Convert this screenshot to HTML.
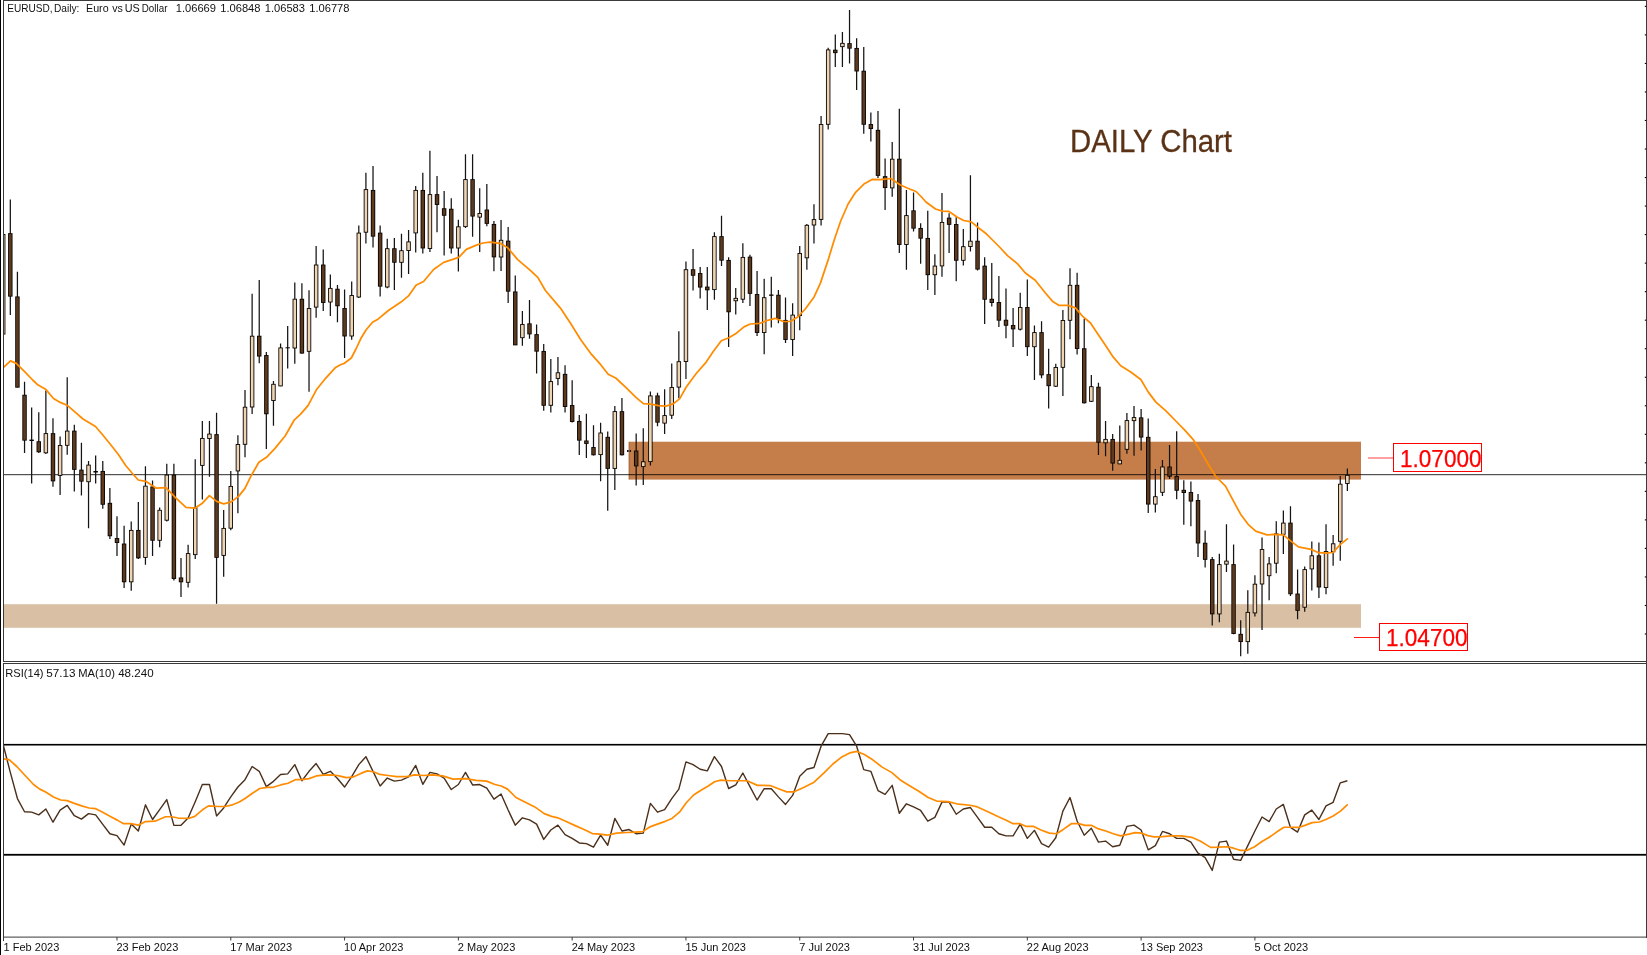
<!DOCTYPE html>
<html><head><meta charset="utf-8"><title>EURUSD Daily</title>
<style>
html,body{margin:0;padding:0;background:#fff}
body{width:1647px;height:955px;overflow:hidden;position:relative}
svg{position:absolute;left:0;top:0;display:block}
text{font-family:"Liberation Sans",sans-serif}
svg{will-change:transform}
.s{font-size:11px;fill:#111}
</style></head><body>
<svg width="1647" height="955" viewBox="0 0 1647 955">
<rect x="0" y="0" width="1647" height="955" fill="#fff"/>
<defs><clipPath id="cm"><rect x="4" y="1" width="1642" height="660"/></clipPath><clipPath id="cr"><rect x="4" y="664" width="1642" height="273"/></clipPath></defs>
<g clip-path="url(#cm)">
<rect x="628.9" y="441.7" width="732.1" height="37.9" fill="#c57e4a"/>
<rect x="4" y="604.2" width="1357" height="23.6" fill="#d9bfa4"/>
<rect x="628.6" y="441.9" width="0.9" height="37.6" fill="#8a4f2a" fill-opacity="0.7"/>
<rect x="4" y="474" width="1642" height="1.22" fill="#000" fill-opacity="0.68"/>
<rect x="0.98" y="234" width="4.44" height="100.5" fill="#0a0502"/><rect x="1.87" y="234.9" width="2.66" height="98.7" fill="#ecd4b5"/>
<path d="M10.31 199.6V315M17.42 271.7V387.5M24.54 381.8V452.9M31.65 407.6V483.6M38.76 412.2V452.9M45.87 390.5V454M52.98 418.2V486.8M60.1 436.6V494.9M67.21 377.2V454.7M74.32 424.7V491.4M81.43 442.8V495.6M88.54 460.9V528.3M95.66 455.4V483.6M102.77 461V508.7M109.88 488.1V539.1M116.99 516.3V556M124.1 525.8V588.1M131.22 521.5V590.7M138.33 501.9V559M145.44 466.2V564.8M152.55 480.6V556M159.66 507.5V547.2M166.78 463.7V521.5M173.89 463.7V580.4M181 558V597M188.11 544.7V587.4M195.22 459.2V559M202.34 421V499.4M209.45 421V476.8M216.56 412.7V603.7M223.67 510V576.8M230.78 471V530.3M237.9 435.3V513.2M245.01 390V457.2M252.12 293.8V413.9M259.23 280V363.2M266.34 351.9V449.1M273.46 381V425.7M280.57 343.5V386.2M287.68 326V368.4M294.79 282.5V363.7M301.9 283.3V353.7M309.02 290.3V391.8M316.13 246.1V317.7M323.24 249.4V310.9M330.35 274.5V316M337.46 285V322.3M344.58 289.6V358M351.69 281.5V339.8M358.8 225.5V297.9M365.91 172.7V243.6M373.02 165.9V247.6M380.14 225.5V296.4M387.25 238.8V288.3M394.36 238V290.1M401.47 233.8V277.8M408.58 230V274M415.7 186V252.4M422.81 172.7V253.6M429.92 150.8V251.9M437.03 175.9V232.3M444.14 191V255.6M451.26 198.3V253.6M458.37 219.7V271.5M465.48 154.3V228M472.59 154.3V236.8M479.7 188.3V251.9M486.82 184V226.2M493.93 221V271.3M501.04 220.1V271.1M508.15 227.1V303.1M515.26 275.4V345M522.38 311.1V345.8M529.49 300V338.8M536.6 324.4V373.5M543.71 344V410.7M550.82 358.9V412.4M557.94 357.1V385.3M565.05 365.2V412.4M572.16 380.2V422.4M579.27 414.9V454.9M586.38 413.8V457.9M593.5 425.3V455.4M600.61 422.8V481.3M607.72 431.4V510.7M614.83 406V490.1M621.94 398.1V455.4M629.06 450V452M636.17 433.5V485.6M643.28 428.3V485.1M650.39 391.5V465.5M657.5 392.8V426.3M664.62 389.3V434.1M671.73 363.4V419.1M678.84 331.2V398.3M685.95 261.6V379M693.06 249V290.5M700.18 267.1V298.5M707.29 267.1V309.9M714.4 232.2V299.8M721.51 215.8V266.1M728.62 257.3V347.1M735.74 288V314.4M742.85 243.2V303.1M749.96 254.8V305.9M757.07 271V335.9M764.18 278.8V354.2M771.3 276.8V327.6M778.41 289.9V323.3M785.52 297.4V342.9M792.63 303.2V356M799.74 245.9V330.3M806.86 224V269.7M813.97 204.3V243.6M821.08 116.1V225.4M828.19 47.8V129.5M835.3 34.4V67.1M842.42 31.9V67.1M849.53 10.1V63.6M856.64 38.2V90M863.75 47V133.7M870.86 112.6V141.5M877.98 111.1V178M885.09 158.4V210M892.2 142V196.8M899.31 108.8V252.9M906.42 189.9V269.7M913.54 192.4V231.4M920.65 223.2V263.7M927.76 210.7V290.1M934.87 254.2V294.9M941.98 193V276.8M949.1 213.2V252.9M956.21 217.3V281.3M963.32 229.1V265.5M970.43 175.2V251.6M977.54 222.4V270.5M984.66 257.2V324M991.77 263V306.4M998.88 276V327.1M1005.99 288.5V338.2M1013.1 308V347M1020.22 292.8V330.5M1027.33 279.5V356.1M1034.44 325.5V380M1041.55 321.2V378.3M1048.66 348.8V408.4M1055.78 363.7V387.1M1062.89 309.9V395.9M1070 268.2V339.3M1077.11 272.7V354.4M1084.22 318.7V403.4M1091.34 375V402.1M1098.45 382.8V454.9M1105.56 421V456.2M1112.67 434.1V470.8M1119.78 425.5V464.2M1126.9 413V453.7M1134.01 405.9V455.7M1141.12 408.9V450.4M1148.23 418.5V513M1155.34 469V512.5M1162.46 460.1V495.9M1169.57 445V479M1176.68 431.2V499.2M1183.79 480.3V524.8M1190.9 481.6V526.3M1198.02 494.1V557M1205.13 530.6V567.5M1212.24 557V625.4M1219.35 553.7V622.3M1226.46 524.3V572.1M1233.58 544.4V634.2M1240.69 620.3V656.3M1247.8 590.2V653.8M1254.91 575.3V616.6M1262.02 537.6V629.9M1269.14 557V600.2M1276.25 521.3V573.3M1283.36 510.5V554M1290.47 506.2V595.9M1297.58 569.5V619.3M1304.7 566.5V611.8M1311.81 541.4V590.4M1318.92 542.4V598M1326.03 524.3V594.2M1333.14 534.9V565.8M1340.26 476V560.7M1347.37 468.5V491.1" stroke="#141414" stroke-width="1.25" fill="none"/>
<rect x="8.09" y="233.15" width="4.44" height="63.5" fill="#0a0502"/>
<rect x="8.98" y="234.04" width="2.66" height="61.72" fill="#5c3a20"/>
<rect x="15.2" y="296.45" width="4.44" height="91.2" fill="#0a0502"/>
<rect x="16.09" y="297.34" width="2.66" height="89.42" fill="#5c3a20"/>
<rect x="22.32" y="394.75" width="4.44" height="45.9" fill="#0a0502"/>
<rect x="23.21" y="395.64" width="2.66" height="44.12" fill="#5c3a20"/>
<rect x="29.43" y="439.6" width="4.44" height="1.4" fill="#0a0502"/>
<rect x="36.54" y="441.25" width="4.44" height="11" fill="#0a0502"/>
<rect x="37.43" y="442.14" width="2.66" height="9.22" fill="#5c3a20"/>
<rect x="43.65" y="433.15" width="4.44" height="20.1" fill="#0a0502"/>
<rect x="44.54" y="434.04" width="2.66" height="18.32" fill="#ecd4b5"/>
<rect x="50.76" y="433.15" width="4.44" height="48.2" fill="#0a0502"/>
<rect x="51.65" y="434.04" width="2.66" height="46.42" fill="#5c3a20"/>
<rect x="57.88" y="445.05" width="4.44" height="30.8" fill="#0a0502"/>
<rect x="58.77" y="445.94" width="2.66" height="29.02" fill="#ecd4b5"/>
<rect x="64.99" y="430.65" width="4.44" height="15.1" fill="#0a0502"/>
<rect x="65.88" y="431.54" width="2.66" height="13.32" fill="#ecd4b5"/>
<rect x="72.1" y="430.65" width="4.44" height="39.2" fill="#0a0502"/>
<rect x="72.99" y="431.54" width="2.66" height="37.42" fill="#5c3a20"/>
<rect x="79.21" y="469.65" width="4.44" height="12" fill="#0a0502"/>
<rect x="80.1" y="470.54" width="2.66" height="10.22" fill="#5c3a20"/>
<rect x="86.32" y="464.65" width="4.44" height="17.5" fill="#0a0502"/>
<rect x="87.21" y="465.54" width="2.66" height="15.72" fill="#ecd4b5"/>
<rect x="93.44" y="471" width="4.44" height="1.5" fill="#0a0502"/>
<rect x="100.55" y="470.95" width="4.44" height="33.8" fill="#0a0502"/>
<rect x="101.44" y="471.84" width="2.66" height="32.02" fill="#5c3a20"/>
<rect x="107.66" y="502.85" width="4.44" height="33.4" fill="#0a0502"/>
<rect x="108.55" y="503.74" width="2.66" height="31.62" fill="#5c3a20"/>
<rect x="114.77" y="538.05" width="4.44" height="4.9" fill="#0a0502"/>
<rect x="115.66" y="538.94" width="2.66" height="3.12" fill="#5c3a20"/>
<rect x="121.88" y="543.55" width="4.44" height="38.7" fill="#0a0502"/>
<rect x="122.77" y="544.44" width="2.66" height="36.92" fill="#5c3a20"/>
<rect x="129" y="529.95" width="4.44" height="52.3" fill="#0a0502"/>
<rect x="129.89" y="530.84" width="2.66" height="50.52" fill="#ecd4b5"/>
<rect x="136.11" y="529.95" width="4.44" height="28.4" fill="#0a0502"/>
<rect x="137" y="530.84" width="2.66" height="26.62" fill="#5c3a20"/>
<rect x="143.22" y="485.75" width="4.44" height="72.1" fill="#0a0502"/>
<rect x="144.11" y="486.64" width="2.66" height="70.32" fill="#ecd4b5"/>
<rect x="150.33" y="486.45" width="4.44" height="54.3" fill="#0a0502"/>
<rect x="151.22" y="487.34" width="2.66" height="52.52" fill="#5c3a20"/>
<rect x="157.44" y="509.85" width="4.44" height="30.9" fill="#0a0502"/>
<rect x="158.33" y="510.74" width="2.66" height="29.12" fill="#ecd4b5"/>
<rect x="164.56" y="474.65" width="4.44" height="46" fill="#0a0502"/>
<rect x="165.45" y="475.54" width="2.66" height="44.22" fill="#ecd4b5"/>
<rect x="171.67" y="474.65" width="4.44" height="104.3" fill="#0a0502"/>
<rect x="172.56" y="475.54" width="2.66" height="102.52" fill="#5c3a20"/>
<rect x="178.78" y="577.45" width="4.44" height="4.8" fill="#0a0502"/>
<rect x="179.67" y="578.34" width="2.66" height="3.02" fill="#5c3a20"/>
<rect x="185.89" y="553.15" width="4.44" height="29.6" fill="#0a0502"/>
<rect x="186.78" y="554.04" width="2.66" height="27.82" fill="#ecd4b5"/>
<rect x="193" y="507.35" width="4.44" height="47.7" fill="#0a0502"/>
<rect x="193.89" y="508.24" width="2.66" height="45.92" fill="#ecd4b5"/>
<rect x="200.12" y="437.95" width="4.44" height="27.9" fill="#0a0502"/>
<rect x="201.01" y="438.84" width="2.66" height="26.12" fill="#ecd4b5"/>
<rect x="207.23" y="433.65" width="4.44" height="5.3" fill="#0a0502"/>
<rect x="208.12" y="434.54" width="2.66" height="3.52" fill="#ecd4b5"/>
<rect x="214.34" y="434.15" width="4.44" height="123.7" fill="#0a0502"/>
<rect x="215.23" y="435.04" width="2.66" height="121.92" fill="#5c3a20"/>
<rect x="221.45" y="527.95" width="4.44" height="27.9" fill="#0a0502"/>
<rect x="222.34" y="528.84" width="2.66" height="26.12" fill="#ecd4b5"/>
<rect x="228.56" y="485.95" width="4.44" height="42.7" fill="#0a0502"/>
<rect x="229.45" y="486.84" width="2.66" height="40.92" fill="#ecd4b5"/>
<rect x="235.68" y="444.05" width="4.44" height="27.3" fill="#0a0502"/>
<rect x="236.57" y="444.94" width="2.66" height="25.52" fill="#ecd4b5"/>
<rect x="242.79" y="406.75" width="4.44" height="38" fill="#0a0502"/>
<rect x="243.68" y="407.64" width="2.66" height="36.22" fill="#ecd4b5"/>
<rect x="249.9" y="335.75" width="4.44" height="71.7" fill="#0a0502"/>
<rect x="250.79" y="336.64" width="2.66" height="69.92" fill="#ecd4b5"/>
<rect x="257.01" y="335.75" width="4.44" height="20.8" fill="#0a0502"/>
<rect x="257.9" y="336.64" width="2.66" height="19.02" fill="#5c3a20"/>
<rect x="264.12" y="355.05" width="4.44" height="59.2" fill="#0a0502"/>
<rect x="265.01" y="355.94" width="2.66" height="57.42" fill="#5c3a20"/>
<rect x="271.24" y="383.85" width="4.44" height="17.1" fill="#0a0502"/>
<rect x="272.13" y="384.74" width="2.66" height="15.32" fill="#ecd4b5"/>
<rect x="278.35" y="347.45" width="4.44" height="38.9" fill="#0a0502"/>
<rect x="279.24" y="348.34" width="2.66" height="37.12" fill="#ecd4b5"/>
<rect x="285.46" y="347.3" width="4.44" height="1" fill="#0a0502"/>
<rect x="292.57" y="298.75" width="4.44" height="49.7" fill="#0a0502"/>
<rect x="293.46" y="299.64" width="2.66" height="47.92" fill="#ecd4b5"/>
<rect x="299.68" y="298.75" width="4.44" height="54.8" fill="#0a0502"/>
<rect x="300.57" y="299.64" width="2.66" height="53.02" fill="#5c3a20"/>
<rect x="306.8" y="308.05" width="4.44" height="43.7" fill="#0a0502"/>
<rect x="307.69" y="308.94" width="2.66" height="41.92" fill="#ecd4b5"/>
<rect x="313.91" y="264.55" width="4.44" height="43" fill="#0a0502"/>
<rect x="314.8" y="265.44" width="2.66" height="41.22" fill="#ecd4b5"/>
<rect x="321.02" y="264.55" width="4.44" height="38.4" fill="#0a0502"/>
<rect x="321.91" y="265.44" width="2.66" height="36.62" fill="#5c3a20"/>
<rect x="328.13" y="287.95" width="4.44" height="14.5" fill="#0a0502"/>
<rect x="329.02" y="288.84" width="2.66" height="12.72" fill="#ecd4b5"/>
<rect x="335.24" y="288.75" width="4.44" height="17.5" fill="#0a0502"/>
<rect x="336.13" y="289.64" width="2.66" height="15.72" fill="#5c3a20"/>
<rect x="342.36" y="308.05" width="4.44" height="28.4" fill="#0a0502"/>
<rect x="343.25" y="308.94" width="2.66" height="26.62" fill="#5c3a20"/>
<rect x="349.47" y="295.05" width="4.44" height="41.4" fill="#0a0502"/>
<rect x="350.36" y="295.94" width="2.66" height="39.62" fill="#ecd4b5"/>
<rect x="356.58" y="232.65" width="4.44" height="64.8" fill="#0a0502"/>
<rect x="357.47" y="233.54" width="2.66" height="63.02" fill="#ecd4b5"/>
<rect x="363.69" y="189.15" width="4.44" height="43.5" fill="#0a0502"/>
<rect x="364.58" y="190.04" width="2.66" height="41.72" fill="#ecd4b5"/>
<rect x="370.8" y="189.95" width="4.44" height="46.7" fill="#0a0502"/>
<rect x="371.69" y="190.84" width="2.66" height="44.92" fill="#5c3a20"/>
<rect x="377.92" y="232.65" width="4.44" height="54" fill="#0a0502"/>
<rect x="378.81" y="233.54" width="2.66" height="52.22" fill="#5c3a20"/>
<rect x="385.03" y="248.25" width="4.44" height="39.2" fill="#0a0502"/>
<rect x="385.92" y="249.14" width="2.66" height="37.42" fill="#ecd4b5"/>
<rect x="392.14" y="248.25" width="4.44" height="14.5" fill="#0a0502"/>
<rect x="393.03" y="249.14" width="2.66" height="12.72" fill="#5c3a20"/>
<rect x="399.25" y="250.25" width="4.44" height="12.5" fill="#0a0502"/>
<rect x="400.14" y="251.14" width="2.66" height="10.72" fill="#ecd4b5"/>
<rect x="406.36" y="241.45" width="4.44" height="9.5" fill="#0a0502"/>
<rect x="407.25" y="242.34" width="2.66" height="7.72" fill="#ecd4b5"/>
<rect x="413.48" y="189.95" width="4.44" height="43.4" fill="#0a0502"/>
<rect x="414.37" y="190.84" width="2.66" height="41.62" fill="#ecd4b5"/>
<rect x="420.59" y="189.95" width="4.44" height="58.5" fill="#0a0502"/>
<rect x="421.48" y="190.84" width="2.66" height="56.72" fill="#5c3a20"/>
<rect x="427.7" y="194.15" width="4.44" height="54.8" fill="#0a0502"/>
<rect x="428.59" y="195.04" width="2.66" height="53.02" fill="#ecd4b5"/>
<rect x="434.81" y="194.15" width="4.44" height="10.8" fill="#0a0502"/>
<rect x="435.7" y="195.04" width="2.66" height="9.02" fill="#5c3a20"/>
<rect x="441.92" y="208.25" width="4.44" height="7.5" fill="#0a0502"/>
<rect x="442.81" y="209.14" width="2.66" height="5.72" fill="#5c3a20"/>
<rect x="449.04" y="208.75" width="4.44" height="39.7" fill="#0a0502"/>
<rect x="449.93" y="209.64" width="2.66" height="37.92" fill="#5c3a20"/>
<rect x="456.15" y="226.35" width="4.44" height="22.1" fill="#0a0502"/>
<rect x="457.04" y="227.24" width="2.66" height="20.32" fill="#ecd4b5"/>
<rect x="463.26" y="179.15" width="4.44" height="47.9" fill="#0a0502"/>
<rect x="464.15" y="180.04" width="2.66" height="46.12" fill="#ecd4b5"/>
<rect x="470.37" y="179.15" width="4.44" height="37.4" fill="#0a0502"/>
<rect x="471.26" y="180.04" width="2.66" height="35.62" fill="#5c3a20"/>
<rect x="477.48" y="213.05" width="4.44" height="4.5" fill="#0a0502"/>
<rect x="478.37" y="213.94" width="2.66" height="2.72" fill="#ecd4b5"/>
<rect x="484.6" y="209.55" width="4.44" height="14.3" fill="#0a0502"/>
<rect x="485.49" y="210.44" width="2.66" height="12.52" fill="#5c3a20"/>
<rect x="491.71" y="223.95" width="4.44" height="33.4" fill="#0a0502"/>
<rect x="492.6" y="224.84" width="2.66" height="31.62" fill="#5c3a20"/>
<rect x="498.82" y="239.85" width="4.44" height="17.6" fill="#0a0502"/>
<rect x="499.71" y="240.74" width="2.66" height="15.82" fill="#ecd4b5"/>
<rect x="505.93" y="240.65" width="4.44" height="51" fill="#0a0502"/>
<rect x="506.82" y="241.54" width="2.66" height="49.22" fill="#5c3a20"/>
<rect x="513.04" y="291.45" width="4.44" height="53.9" fill="#0a0502"/>
<rect x="513.93" y="292.34" width="2.66" height="52.12" fill="#5c3a20"/>
<rect x="520.16" y="324.05" width="4.44" height="14.1" fill="#0a0502"/>
<rect x="521.05" y="324.94" width="2.66" height="12.32" fill="#ecd4b5"/>
<rect x="527.27" y="323.35" width="4.44" height="11" fill="#0a0502"/>
<rect x="528.16" y="324.24" width="2.66" height="9.22" fill="#5c3a20"/>
<rect x="534.38" y="334.15" width="4.44" height="17.5" fill="#0a0502"/>
<rect x="535.27" y="335.04" width="2.66" height="15.72" fill="#5c3a20"/>
<rect x="541.49" y="350.95" width="4.44" height="54.8" fill="#0a0502"/>
<rect x="542.38" y="351.84" width="2.66" height="53.02" fill="#5c3a20"/>
<rect x="548.6" y="381.15" width="4.44" height="24.6" fill="#0a0502"/>
<rect x="549.49" y="382.04" width="2.66" height="22.82" fill="#ecd4b5"/>
<rect x="555.72" y="372.35" width="4.44" height="6.5" fill="#0a0502"/>
<rect x="556.61" y="373.24" width="2.66" height="4.72" fill="#ecd4b5"/>
<rect x="562.83" y="373.85" width="4.44" height="33.1" fill="#0a0502"/>
<rect x="563.72" y="374.74" width="2.66" height="31.32" fill="#5c3a20"/>
<rect x="569.94" y="405.05" width="4.44" height="16.9" fill="#0a0502"/>
<rect x="570.83" y="405.94" width="2.66" height="15.12" fill="#5c3a20"/>
<rect x="577.05" y="420.95" width="4.44" height="19.7" fill="#0a0502"/>
<rect x="577.94" y="421.84" width="2.66" height="17.92" fill="#5c3a20"/>
<rect x="584.16" y="440.5" width="4.44" height="3.4" fill="#0a0502"/>
<rect x="585.05" y="441.39" width="2.66" height="1.62" fill="#5c3a20"/>
<rect x="591.28" y="447.05" width="4.44" height="8.2" fill="#0a0502"/>
<rect x="592.17" y="447.94" width="2.66" height="6.42" fill="#5c3a20"/>
<rect x="598.39" y="432.55" width="4.44" height="22.5" fill="#0a0502"/>
<rect x="599.28" y="433.44" width="2.66" height="20.72" fill="#ecd4b5"/>
<rect x="605.5" y="436.85" width="4.44" height="32" fill="#0a0502"/>
<rect x="606.39" y="437.74" width="2.66" height="30.22" fill="#5c3a20"/>
<rect x="612.61" y="411.15" width="4.44" height="57.7" fill="#0a0502"/>
<rect x="613.5" y="412.04" width="2.66" height="55.92" fill="#ecd4b5"/>
<rect x="619.72" y="411.15" width="4.44" height="44.1" fill="#0a0502"/>
<rect x="620.61" y="412.04" width="2.66" height="42.32" fill="#5c3a20"/>
<rect x="627.06" y="450" width="4" height="2" fill="#0a0502"/><rect x="627.86" y="450.5" width="2.4" height="1" fill="#b9a88f"/>
<rect x="633.95" y="450.55" width="4.44" height="15.8" fill="#0a0502"/>
<rect x="634.84" y="451.44" width="2.66" height="14.02" fill="#5c3a20"/>
<rect x="641.06" y="461.35" width="4.44" height="5.7" fill="#0a0502"/>
<rect x="641.95" y="462.24" width="2.66" height="3.92" fill="#ecd4b5"/>
<rect x="648.17" y="395.45" width="4.44" height="66.6" fill="#0a0502"/>
<rect x="649.06" y="396.34" width="2.66" height="64.82" fill="#ecd4b5"/>
<rect x="655.28" y="395.45" width="4.44" height="27.2" fill="#0a0502"/>
<rect x="656.17" y="396.34" width="2.66" height="25.42" fill="#5c3a20"/>
<rect x="662.4" y="415.15" width="4.44" height="8.4" fill="#0a0502"/>
<rect x="663.29" y="416.04" width="2.66" height="6.62" fill="#ecd4b5"/>
<rect x="669.51" y="387.05" width="4.44" height="28.6" fill="#0a0502"/>
<rect x="670.4" y="387.94" width="2.66" height="26.82" fill="#ecd4b5"/>
<rect x="676.62" y="361.25" width="4.44" height="26.3" fill="#0a0502"/>
<rect x="677.51" y="362.14" width="2.66" height="24.52" fill="#ecd4b5"/>
<rect x="683.73" y="269.25" width="4.44" height="92.7" fill="#0a0502"/>
<rect x="684.62" y="270.14" width="2.66" height="90.92" fill="#ecd4b5"/>
<rect x="690.84" y="269.25" width="4.44" height="6.5" fill="#0a0502"/>
<rect x="691.73" y="270.14" width="2.66" height="4.72" fill="#5c3a20"/>
<rect x="697.96" y="273.05" width="4.44" height="14.5" fill="#0a0502"/>
<rect x="698.85" y="273.94" width="2.66" height="12.72" fill="#5c3a20"/>
<rect x="705.07" y="286.6" width="4.44" height="3.7" fill="#0a0502"/>
<rect x="705.96" y="287.49" width="2.66" height="1.92" fill="#5c3a20"/>
<rect x="712.18" y="236.15" width="4.44" height="53.9" fill="#0a0502"/>
<rect x="713.07" y="237.04" width="2.66" height="52.12" fill="#ecd4b5"/>
<rect x="719.29" y="236.15" width="4.44" height="24.5" fill="#0a0502"/>
<rect x="720.18" y="237.04" width="2.66" height="22.72" fill="#5c3a20"/>
<rect x="726.4" y="259.95" width="4.44" height="52.3" fill="#0a0502"/>
<rect x="727.29" y="260.84" width="2.66" height="50.52" fill="#5c3a20"/>
<rect x="733.52" y="297.9" width="4.44" height="3.3" fill="#0a0502"/>
<rect x="734.41" y="298.79" width="2.66" height="1.52" fill="#ecd4b5"/>
<rect x="740.63" y="256.95" width="4.44" height="42.7" fill="#0a0502"/>
<rect x="741.52" y="257.84" width="2.66" height="40.92" fill="#ecd4b5"/>
<rect x="747.74" y="256.65" width="4.44" height="37.2" fill="#0a0502"/>
<rect x="748.63" y="257.54" width="2.66" height="35.42" fill="#5c3a20"/>
<rect x="754.85" y="294.05" width="4.44" height="38.9" fill="#0a0502"/>
<rect x="755.74" y="294.94" width="2.66" height="37.12" fill="#5c3a20"/>
<rect x="761.96" y="297.25" width="4.44" height="35.7" fill="#0a0502"/>
<rect x="762.85" y="298.14" width="2.66" height="33.92" fill="#ecd4b5"/>
<rect x="769.08" y="294.5" width="4.44" height="1.3" fill="#0a0502"/>
<rect x="776.19" y="294.75" width="4.44" height="24.4" fill="#0a0502"/>
<rect x="777.08" y="295.64" width="2.66" height="22.62" fill="#5c3a20"/>
<rect x="783.3" y="319.95" width="4.44" height="20" fill="#0a0502"/>
<rect x="784.19" y="320.84" width="2.66" height="18.22" fill="#5c3a20"/>
<rect x="790.41" y="314.65" width="4.44" height="25.3" fill="#0a0502"/>
<rect x="791.3" y="315.54" width="2.66" height="23.52" fill="#ecd4b5"/>
<rect x="797.52" y="253.05" width="4.44" height="63" fill="#0a0502"/>
<rect x="798.41" y="253.94" width="2.66" height="61.22" fill="#ecd4b5"/>
<rect x="804.64" y="224.85" width="4.44" height="33.4" fill="#0a0502"/>
<rect x="805.53" y="225.74" width="2.66" height="31.62" fill="#ecd4b5"/>
<rect x="811.75" y="219.15" width="4.44" height="6.3" fill="#0a0502"/>
<rect x="812.64" y="220.04" width="2.66" height="4.52" fill="#ecd4b5"/>
<rect x="818.86" y="124.05" width="4.44" height="95.8" fill="#0a0502"/>
<rect x="819.75" y="124.94" width="2.66" height="94.02" fill="#ecd4b5"/>
<rect x="825.97" y="49.45" width="4.44" height="75.3" fill="#0a0502"/>
<rect x="826.86" y="50.34" width="2.66" height="73.52" fill="#ecd4b5"/>
<rect x="833.08" y="49.7" width="4.44" height="3.4" fill="#0a0502"/>
<rect x="833.97" y="50.59" width="2.66" height="1.62" fill="#5c3a20"/>
<rect x="840.2" y="42.9" width="4.44" height="4.2" fill="#0a0502"/>
<rect x="841.09" y="43.79" width="2.66" height="2.42" fill="#ecd4b5"/>
<rect x="847.31" y="43.15" width="4.44" height="5.5" fill="#0a0502"/>
<rect x="848.2" y="44.04" width="2.66" height="3.72" fill="#5c3a20"/>
<rect x="854.42" y="47.95" width="4.44" height="23.5" fill="#0a0502"/>
<rect x="855.31" y="48.84" width="2.66" height="21.72" fill="#5c3a20"/>
<rect x="861.53" y="70.75" width="4.44" height="54" fill="#0a0502"/>
<rect x="862.42" y="71.64" width="2.66" height="52.22" fill="#5c3a20"/>
<rect x="868.64" y="124.05" width="4.44" height="5" fill="#0a0502"/>
<rect x="869.53" y="124.94" width="2.66" height="3.22" fill="#5c3a20"/>
<rect x="875.76" y="129.85" width="4.44" height="46" fill="#0a0502"/>
<rect x="876.65" y="130.74" width="2.66" height="44.22" fill="#5c3a20"/>
<rect x="882.87" y="176.15" width="4.44" height="11.9" fill="#0a0502"/>
<rect x="883.76" y="177.04" width="2.66" height="10.12" fill="#5c3a20"/>
<rect x="889.98" y="158.75" width="4.44" height="29.6" fill="#0a0502"/>
<rect x="890.87" y="159.64" width="2.66" height="27.82" fill="#ecd4b5"/>
<rect x="897.09" y="158.75" width="4.44" height="86.2" fill="#0a0502"/>
<rect x="897.98" y="159.64" width="2.66" height="84.42" fill="#5c3a20"/>
<rect x="904.2" y="215.15" width="4.44" height="29.8" fill="#0a0502"/>
<rect x="905.09" y="216.04" width="2.66" height="28.02" fill="#ecd4b5"/>
<rect x="911.32" y="210.35" width="4.44" height="18.3" fill="#0a0502"/>
<rect x="912.21" y="211.24" width="2.66" height="16.52" fill="#5c3a20"/>
<rect x="918.43" y="227.95" width="4.44" height="10.7" fill="#0a0502"/>
<rect x="919.32" y="228.84" width="2.66" height="8.92" fill="#5c3a20"/>
<rect x="925.54" y="237.95" width="4.44" height="37.2" fill="#0a0502"/>
<rect x="926.43" y="238.84" width="2.66" height="35.42" fill="#5c3a20"/>
<rect x="932.65" y="265.65" width="4.44" height="9.5" fill="#0a0502"/>
<rect x="933.54" y="266.54" width="2.66" height="7.72" fill="#ecd4b5"/>
<rect x="939.76" y="221.95" width="4.44" height="44.4" fill="#0a0502"/>
<rect x="940.65" y="222.84" width="2.66" height="42.62" fill="#ecd4b5"/>
<rect x="946.88" y="217.65" width="4.44" height="7.2" fill="#0a0502"/>
<rect x="947.77" y="218.54" width="2.66" height="5.42" fill="#5c3a20"/>
<rect x="953.99" y="224.05" width="4.44" height="36.7" fill="#0a0502"/>
<rect x="954.88" y="224.94" width="2.66" height="34.92" fill="#5c3a20"/>
<rect x="961.1" y="246.25" width="4.44" height="14.5" fill="#0a0502"/>
<rect x="961.99" y="247.14" width="2.66" height="12.72" fill="#ecd4b5"/>
<rect x="968.21" y="240.75" width="4.44" height="6.2" fill="#0a0502"/>
<rect x="969.1" y="241.64" width="2.66" height="4.42" fill="#ecd4b5"/>
<rect x="975.32" y="240.75" width="4.44" height="28.8" fill="#0a0502"/>
<rect x="976.21" y="241.64" width="2.66" height="27.02" fill="#5c3a20"/>
<rect x="982.44" y="265.65" width="4.44" height="34.1" fill="#0a0502"/>
<rect x="983.33" y="266.54" width="2.66" height="32.32" fill="#5c3a20"/>
<rect x="989.55" y="298.8" width="4.44" height="4.2" fill="#0a0502"/>
<rect x="990.44" y="299.69" width="2.66" height="2.42" fill="#5c3a20"/>
<rect x="996.66" y="302.05" width="4.44" height="18.6" fill="#0a0502"/>
<rect x="997.55" y="302.94" width="2.66" height="16.82" fill="#5c3a20"/>
<rect x="1003.77" y="319.75" width="4.44" height="6" fill="#0a0502"/>
<rect x="1004.66" y="320.64" width="2.66" height="4.22" fill="#5c3a20"/>
<rect x="1010.88" y="325.05" width="4.44" height="4.3" fill="#0a0502"/>
<rect x="1011.77" y="325.94" width="2.66" height="2.52" fill="#5c3a20"/>
<rect x="1018" y="307.05" width="4.44" height="22.6" fill="#0a0502"/>
<rect x="1018.89" y="307.94" width="2.66" height="20.82" fill="#ecd4b5"/>
<rect x="1025.11" y="307.05" width="4.44" height="40.1" fill="#0a0502"/>
<rect x="1026" y="307.94" width="2.66" height="38.32" fill="#5c3a20"/>
<rect x="1032.22" y="332.15" width="4.44" height="15" fill="#0a0502"/>
<rect x="1033.11" y="333.04" width="2.66" height="13.22" fill="#ecd4b5"/>
<rect x="1039.33" y="332.15" width="4.44" height="43.2" fill="#0a0502"/>
<rect x="1040.22" y="333.04" width="2.66" height="41.42" fill="#5c3a20"/>
<rect x="1046.44" y="374.15" width="4.44" height="12" fill="#0a0502"/>
<rect x="1047.33" y="375.04" width="2.66" height="10.22" fill="#5c3a20"/>
<rect x="1053.56" y="367.05" width="4.44" height="19.6" fill="#0a0502"/>
<rect x="1054.45" y="367.94" width="2.66" height="17.82" fill="#ecd4b5"/>
<rect x="1060.67" y="320.05" width="4.44" height="47.7" fill="#0a0502"/>
<rect x="1061.56" y="320.94" width="2.66" height="45.92" fill="#ecd4b5"/>
<rect x="1067.78" y="284.85" width="4.44" height="35.9" fill="#0a0502"/>
<rect x="1068.67" y="285.74" width="2.66" height="34.12" fill="#ecd4b5"/>
<rect x="1074.89" y="284.85" width="4.44" height="64.1" fill="#0a0502"/>
<rect x="1075.78" y="285.74" width="2.66" height="62.32" fill="#5c3a20"/>
<rect x="1082" y="348.25" width="4.44" height="55" fill="#0a0502"/>
<rect x="1082.89" y="349.14" width="2.66" height="53.22" fill="#5c3a20"/>
<rect x="1089.12" y="386.25" width="4.44" height="15.5" fill="#0a0502"/>
<rect x="1090.01" y="387.14" width="2.66" height="13.72" fill="#ecd4b5"/>
<rect x="1096.23" y="386.75" width="4.44" height="56" fill="#0a0502"/>
<rect x="1097.12" y="387.64" width="2.66" height="54.22" fill="#5c3a20"/>
<rect x="1103.34" y="438.95" width="4.44" height="4.3" fill="#0a0502"/>
<rect x="1104.23" y="439.84" width="2.66" height="2.52" fill="#ecd4b5"/>
<rect x="1110.45" y="438.95" width="4.44" height="24.6" fill="#0a0502"/>
<rect x="1111.34" y="439.84" width="2.66" height="22.82" fill="#5c3a20"/>
<rect x="1117.56" y="459.9" width="4.44" height="4.4" fill="#0a0502"/>
<rect x="1118.45" y="460.79" width="2.66" height="2.62" fill="#ecd4b5"/>
<rect x="1124.68" y="420.15" width="4.44" height="29.6" fill="#0a0502"/>
<rect x="1125.57" y="421.04" width="2.66" height="27.82" fill="#ecd4b5"/>
<rect x="1131.79" y="417.1" width="4.44" height="4" fill="#0a0502"/>
<rect x="1132.68" y="417.99" width="2.66" height="2.22" fill="#ecd4b5"/>
<rect x="1138.9" y="417.35" width="4.44" height="20.2" fill="#0a0502"/>
<rect x="1139.79" y="418.24" width="2.66" height="18.42" fill="#5c3a20"/>
<rect x="1146.01" y="436.85" width="4.44" height="67.7" fill="#0a0502"/>
<rect x="1146.9" y="437.74" width="2.66" height="65.92" fill="#5c3a20"/>
<rect x="1153.12" y="496.25" width="4.44" height="8.3" fill="#0a0502"/>
<rect x="1154.01" y="497.14" width="2.66" height="6.52" fill="#ecd4b5"/>
<rect x="1160.24" y="466.55" width="4.44" height="26.2" fill="#0a0502"/>
<rect x="1161.13" y="467.44" width="2.66" height="24.42" fill="#ecd4b5"/>
<rect x="1167.35" y="466.55" width="4.44" height="10.2" fill="#0a0502"/>
<rect x="1168.24" y="467.44" width="2.66" height="8.42" fill="#5c3a20"/>
<rect x="1174.46" y="476.05" width="4.44" height="14.7" fill="#0a0502"/>
<rect x="1175.35" y="476.94" width="2.66" height="12.92" fill="#5c3a20"/>
<rect x="1181.57" y="489.8" width="4.44" height="3.2" fill="#0a0502"/>
<rect x="1182.46" y="490.69" width="2.66" height="1.42" fill="#5c3a20"/>
<rect x="1188.68" y="492.05" width="4.44" height="9.5" fill="#0a0502"/>
<rect x="1189.57" y="492.94" width="2.66" height="7.72" fill="#5c3a20"/>
<rect x="1195.8" y="500.05" width="4.44" height="43.4" fill="#0a0502"/>
<rect x="1196.69" y="500.94" width="2.66" height="41.62" fill="#5c3a20"/>
<rect x="1202.91" y="542.75" width="4.44" height="17.1" fill="#0a0502"/>
<rect x="1203.8" y="543.64" width="2.66" height="15.32" fill="#5c3a20"/>
<rect x="1210.02" y="559.15" width="4.44" height="55.2" fill="#0a0502"/>
<rect x="1210.91" y="560.04" width="2.66" height="53.42" fill="#5c3a20"/>
<rect x="1217.13" y="564.15" width="4.44" height="50.2" fill="#0a0502"/>
<rect x="1218.02" y="565.04" width="2.66" height="48.42" fill="#ecd4b5"/>
<rect x="1224.24" y="560.7" width="4.44" height="3.9" fill="#0a0502"/>
<rect x="1225.13" y="561.59" width="2.66" height="2.12" fill="#ecd4b5"/>
<rect x="1231.36" y="564.15" width="4.44" height="69.8" fill="#0a0502"/>
<rect x="1232.25" y="565.04" width="2.66" height="68.02" fill="#5c3a20"/>
<rect x="1238.47" y="633.85" width="4.44" height="8.2" fill="#0a0502"/>
<rect x="1239.36" y="634.74" width="2.66" height="6.42" fill="#5c3a20"/>
<rect x="1245.58" y="611.95" width="4.44" height="30.1" fill="#0a0502"/>
<rect x="1246.47" y="612.84" width="2.66" height="28.32" fill="#ecd4b5"/>
<rect x="1252.69" y="583.75" width="4.44" height="29.6" fill="#0a0502"/>
<rect x="1253.58" y="584.64" width="2.66" height="27.82" fill="#ecd4b5"/>
<rect x="1259.8" y="549.05" width="4.44" height="35.4" fill="#0a0502"/>
<rect x="1260.69" y="549.94" width="2.66" height="33.62" fill="#ecd4b5"/>
<rect x="1266.92" y="563.45" width="4.44" height="12.7" fill="#0a0502"/>
<rect x="1267.81" y="564.34" width="2.66" height="10.92" fill="#ecd4b5"/>
<rect x="1274.03" y="533.45" width="4.44" height="30.2" fill="#0a0502"/>
<rect x="1274.92" y="534.34" width="2.66" height="28.42" fill="#ecd4b5"/>
<rect x="1281.14" y="522.65" width="4.44" height="12.1" fill="#0a0502"/>
<rect x="1282.03" y="523.54" width="2.66" height="10.32" fill="#ecd4b5"/>
<rect x="1288.25" y="522.65" width="4.44" height="71.6" fill="#0a0502"/>
<rect x="1289.14" y="523.54" width="2.66" height="69.82" fill="#5c3a20"/>
<rect x="1295.36" y="593.55" width="4.44" height="17.3" fill="#0a0502"/>
<rect x="1296.25" y="594.44" width="2.66" height="15.52" fill="#5c3a20"/>
<rect x="1302.48" y="569.15" width="4.44" height="38.5" fill="#0a0502"/>
<rect x="1303.37" y="570.04" width="2.66" height="36.72" fill="#ecd4b5"/>
<rect x="1309.59" y="555.35" width="4.44" height="14" fill="#0a0502"/>
<rect x="1310.48" y="556.24" width="2.66" height="12.22" fill="#ecd4b5"/>
<rect x="1316.7" y="555.35" width="4.44" height="32.1" fill="#0a0502"/>
<rect x="1317.59" y="556.24" width="2.66" height="30.32" fill="#5c3a20"/>
<rect x="1323.81" y="551.05" width="4.44" height="36.9" fill="#0a0502"/>
<rect x="1324.7" y="551.94" width="2.66" height="35.12" fill="#ecd4b5"/>
<rect x="1330.92" y="543.35" width="4.44" height="8.9" fill="#0a0502"/>
<rect x="1331.81" y="544.24" width="2.66" height="7.12" fill="#ecd4b5"/>
<rect x="1338.04" y="483.75" width="4.44" height="58" fill="#0a0502"/>
<rect x="1338.93" y="484.64" width="2.66" height="56.22" fill="#ecd4b5"/>
<rect x="1345.15" y="474.95" width="4.44" height="9" fill="#0a0502"/>
<rect x="1346.04" y="475.84" width="2.66" height="7.22" fill="#ecd4b5"/>
<polyline fill="none" stroke="#ff8c00" stroke-width="1.75" stroke-linejoin="round" stroke-linecap="round" points="3.8,367.2 10.5,360.9 16.3,363.4 25.1,372.2 32.7,380 37.7,384.8 46,389.6 53.5,398.5 60.3,402.4 67,405.2 75.4,412.4 83,419 95.5,426.5 103,435.3 110.5,444.5 118.2,454.2 125.7,465.5 132,473 138.3,480 145.8,481.3 155.9,488.1 165.9,487.6 176,498.1 186,507.4 194.8,508.2 202.4,503.2 209.4,495.6 216.7,501.4 223.7,503.9 231.3,501.9 238.8,496.1 245.1,488.1 251.4,475.2 258.9,462.3 266.5,457.3 275.2,448.1 285.3,435.7 294.1,420.2 300.4,414.4 308,405.6 316.8,389.2 325.6,378.3 335.6,367.4 341,364.5 344.4,363.3 351.3,358 356,349 360.7,338.8 366,330 372.5,322.2 378.3,318.9 388.4,310.5 401,302.1 408.5,295.9 416,285.3 423.6,281.5 433.6,269.5 443.7,262.4 458.8,257.4 466.3,249.4 476.4,245.1 483,243 490,242.2 500.1,243.3 507.7,247.8 517.7,259.6 530.3,270.4 537.8,277.4 545.4,290.5 560.4,308.1 570.5,323.2 580.6,339.5 590.6,353.3 600.7,364.7 608.2,374.2 615.7,378 625.8,387.3 635.9,397.3 643.4,403.6 650.9,404.1 658.5,405.6 666,406.1 673.6,403.6 679.8,398.6 686.1,387.3 696.2,373.5 706.2,362.1 713.8,350.8 721.3,340.8 728.9,337.8 736.4,333.2 744,326.9 750.2,324 760.1,323.3 767.6,320.3 775.2,318.3 782.7,321.3 790.2,321.5 797.8,317 805.3,309 814.1,296.9 820.4,283.1 828,260.4 834.2,240 840.5,221.5 848.1,204 855.6,192.3 864.4,183.7 872,179.4 880.7,179.7 890.8,178.5 900,184.8 908.4,188.5 916,191.5 921,196.5 926,202 935.5,209 942.3,211.2 948.6,211.3 957,217 963.7,220.5 971.3,221.8 980,229 986.3,233.8 992,239.5 1000,247.5 1007.5,255.6 1017.6,263.9 1025.1,272.7 1035.2,280.2 1045.2,292.8 1052.8,301.6 1059.1,305.4 1067.9,305.4 1075.4,307.9 1083,316.7 1090.5,323 1098,334.3 1105.6,345.6 1113.1,356.9 1120.7,365.7 1130.7,372 1140.8,379.5 1148.3,392.1 1155.9,402.1 1165.9,410.9 1176.3,421.5 1185,430.4 1193,439.3 1200.7,451.3 1208.3,464.5 1215.8,476.5 1225.5,486.1 1233.1,500.4 1240.6,514.2 1248.1,524.3 1255.7,531.1 1267,534.9 1274.5,534.4 1283.3,534.9 1290.9,541.1 1298.4,546.9 1311,549.4 1318.5,552.7 1326.1,553.2 1333.1,552.5 1340.4,544.4 1347.4,538.9"/>
</g>
<g fill="none" stroke="#ff0000" stroke-width="1"><rect x="1393.5" y="443.5" width="88" height="28"/><line x1="1368" y1="458" x2="1393" y2="458" stroke-opacity="0.75"/><rect x="1379.5" y="623.5" width="88" height="27"/><line x1="1354" y1="637.5" x2="1379" y2="637.5" stroke-opacity="0.9"/></g>
<text x="1400" y="466.7" font-size="24" fill="#ff0000" stroke="#ff0000" stroke-width="0.25" textLength="81.5" lengthAdjust="spacingAndGlyphs">1.07000</text>
<text x="1386" y="646" font-size="24" fill="#ff0000" stroke="#ff0000" stroke-width="0.25" textLength="81.5" lengthAdjust="spacingAndGlyphs">1.04700</text>
<text x="1070" y="151.8" font-size="31.5" fill="#5a3216" stroke="#5a3216" stroke-width="0.3" textLength="162" lengthAdjust="spacingAndGlyphs">DAILY Chart</text>
<g clip-path="url(#cr)">
<rect x="4" y="743.9" width="1642" height="1.62" fill="#000"/>
<rect x="4" y="853.88" width="1642" height="1.8" fill="#000"/>
<polyline fill="none" stroke="#4a2f1b" stroke-width="1.4" stroke-linejoin="round" points="3.2,744.72 10.31,772.37 17.42,798.55 24.54,811.75 31.65,812.17 38.76,814.89 45.87,809.02 52.98,822.22 60.1,810.07 67.21,805.46 74.32,815.73 81.43,819.08 88.54,813.63 95.66,814.89 102.77,824.32 109.88,833.74 116.99,835.63 124.1,845.05 131.22,824.11 138.33,831.02 145.44,804.83 152.55,819.5 159.66,809.65 166.78,799.6 173.89,825.36 181,825.36 188.11,818.03 195.22,801.69 202.34,784.52 209.45,784.52 216.56,815.94 223.67,807.98 230.78,796.87 237.9,787.03 245.01,779.7 252.12,766.5 259.23,771.32 266.34,786.61 273.46,781.37 280.57,774.46 287.68,773.83 294.79,764.62 301.9,780.75 309.02,771.32 316.13,763.57 323.24,774.46 330.35,771.32 337.46,778.44 344.58,787.03 351.69,776.56 358.8,764.62 365.91,756.66 373.02,771.32 380.14,785.98 387.25,778.02 394.36,781.16 401.47,780.12 408.58,776.98 415.7,765.45 422.81,784.31 429.92,772.37 437.03,773.83 444.14,778.23 451.26,789.54 458.37,784.52 465.48,772.37 472.59,784.94 479.7,784.52 486.82,788.08 493.93,799.18 501.04,793.94 508.15,810.07 515.26,825.15 522.38,817.82 529.49,819.92 536.6,824.11 543.71,839.4 550.82,829.97 557.94,825.15 565.05,834.58 572.16,838.35 579.27,842.96 586.38,843.59 593.5,847.15 600.61,835.21 607.72,845.26 614.83,818.45 621.94,831.02 629.06,829.55 636.17,833.74 643.28,833.11 650.39,803.37 657.5,812.17 664.62,809.65 671.73,798.55 678.84,789.12 685.95,761.89 693.06,764.62 700.18,769.22 707.29,770.9 714.4,756.66 721.51,766.5 728.62,788.5 735.74,784.94 742.85,773 749.96,786.61 757.07,800.02 764.18,788.71 771.3,788.71 778.41,796.87 785.52,804.42 792.63,795.41 799.74,776.14 806.86,769.22 813.97,767.55 821.08,746.18 828.19,733.62 835.3,733.62 842.42,733.62 849.53,734.66 856.64,746.18 863.75,769.64 870.86,771.32 877.98,790.59 885.09,794.36 892.2,785.35 899.31,813.21 906.42,803.79 913.54,806.93 920.65,810.49 927.76,821.17 934.87,817.4 941.98,802.11 949.1,802.11 956.21,814.26 963.32,809.02 970.43,807.56 977.54,817.4 984.66,827.25 991.77,827.25 998.88,833.74 1005.99,835.84 1013.1,835.84 1020.22,824.11 1027.33,838.35 1034.44,830.39 1041.55,843.59 1048.66,847.15 1055.78,837.72 1062.89,811.12 1070,797.5 1077.11,820.96 1084.22,835.21 1091.34,828.29 1098.45,842.12 1105.56,841.07 1112.67,846.73 1119.78,845.26 1126.9,826.41 1134.01,825.15 1141.12,829.97 1148.23,849.87 1155.34,845.68 1162.46,831.44 1169.57,833.74 1176.68,838.35 1183.79,838.35 1190.9,842.12 1198.02,853.01 1205.13,857.62 1212.24,870.4 1219.35,842.12 1226.46,841.07 1233.58,859.3 1240.69,860.34 1247.8,845.68 1254.91,831.02 1262.02,816.98 1269.14,821.59 1276.25,809.02 1283.36,804.42 1290.47,827.46 1297.58,832.07 1304.7,814.89 1311.81,810.07 1318.92,819.5 1326.03,805.88 1333.14,802.32 1340.26,782.84 1347.37,780.75"/>
<polyline fill="none" stroke="#ff8c00" stroke-width="1.7" stroke-linejoin="round" stroke-linecap="round" points="3.77,758.75 9.43,759.8 16.76,766.5 25.14,775.51 33.51,784.52 39.8,789.12 46.08,792.27 53.41,797.08 60.75,800.02 67.03,800.65 74.36,803.37 81.69,805.88 89.02,807.98 95.31,808.6 102.64,812.17 109.97,816.36 117.3,820.13 123.59,823.69 130.92,823.69 138.25,825.15 145.58,821.59 155.01,821.17 165.48,816.77 171.76,816.77 178.05,818.03 188.52,818.45 194.81,816.36 202.14,810.07 208.42,805.88 217.85,806.51 225.18,806.51 232.51,804.83 238.79,802.32 245.08,798.55 252.41,793.31 259.74,788.5 267.07,787.45 272.31,787.45 280.69,784.94 288.02,783.26 295.35,779.7 301.63,779.7 308.97,778.65 316.3,775.93 323.63,775.09 330.96,774.88 337.24,775.51 340,776.14 346.28,777.6 352.57,777.18 360.95,773.41 367.23,770.9 373.51,771.74 379.8,774.46 388.18,775.51 396.56,776.56 407.03,776.56 414.36,774.88 423.79,775.51 432.17,774.88 442.64,775.93 453.11,779.07 465.68,778.65 476.15,780.33 486.63,781.16 495.01,784.52 501.29,785.98 507.57,789.12 515.95,797.5 524.33,801.69 534.81,806.93 544.23,813.63 551.56,816.36 557.85,817.82 566.23,821.59 574.6,825.36 582.98,828.92 592.41,833.53 599.74,834.16 607.07,835.21 616.5,833.11 626.97,832.48 635.35,832.07 642.68,831.65 650.01,826.83 657.34,824.11 664.68,821.59 672.01,818.45 678.29,813.21 680,811.54 686.28,802.74 693.62,794.99 700.95,790.17 708.28,785.98 714.56,781.79 720.85,780.12 730.27,780.75 738.65,780.75 747.03,780.75 757.5,785.35 770.07,785.56 778.45,788.71 786.83,791.85 794.16,791.85 803.59,787.45 814.06,782.21 824.53,772.37 832.91,763.99 841.29,757.29 849.67,752.89 857,751.42 864.33,754.56 872.71,759.8 882.14,767.13 891.56,772.37 899.94,779.7 908.32,784.94 918.79,791.22 928.22,797.5 936.6,801.06 948.12,801.69 958.59,804.21 970.11,805.25 977.44,806.93 987.92,811.75 998.39,816.77 1006.77,820.54 1013.05,823.69 1019.34,823.69 1020,823.69 1026.28,826.41 1033.62,826.41 1040.95,829.97 1049.33,833.11 1056.66,833.74 1063.99,828.92 1071.32,823.69 1078.65,823.69 1084.94,825.36 1091.22,825.36 1098.55,828.92 1105.88,831.02 1113.21,833.74 1120.54,835.84 1128.92,834.16 1135.21,832.69 1141.49,833.11 1147.78,835.63 1154.06,836.88 1162.44,836.67 1170.82,835.84 1181.29,835.84 1191.76,837.3 1200.14,841.07 1210.62,847.36 1218.99,847.15 1227.37,846.73 1233.66,848.19 1239.94,850.29 1247.27,850.29 1254.6,846.73 1261.94,841.49 1269.27,837.3 1276.6,832.07 1283.93,827.25 1291.26,827.25 1298.59,827.46 1304.88,825.36 1312.21,822.64 1319.54,822.01 1325.82,819.5 1333.15,815.94 1340.49,811.12 1347.19,804.83"/>
</g>
<rect x="0" y="0" width="1" height="955" fill="#000"/>
<g fill="#3a3a3a"><rect x="3" y="0" width="1644" height="1"/><rect x="3" y="0" width="1" height="662"/><rect x="1646" y="0" width="1" height="938"/><rect x="3" y="661" width="1644" height="1"/><rect x="3" y="663" width="1644" height="1"/><rect x="3" y="663" width="1" height="278"/><rect x="3" y="936.6" width="1644" height="1"/><rect x="1644.8" y="5.8" width="1.4" height="1.1" fill="#000"/><rect x="1644.8" y="34.33" width="1.4" height="1.1" fill="#000"/><rect x="1644.8" y="62.86" width="1.4" height="1.1" fill="#000"/><rect x="1644.8" y="91.39" width="1.4" height="1.1" fill="#000"/><rect x="1644.8" y="119.92" width="1.4" height="1.1" fill="#000"/><rect x="1644.8" y="148.45" width="1.4" height="1.1" fill="#000"/><rect x="1644.8" y="176.98" width="1.4" height="1.1" fill="#000"/><rect x="1644.8" y="205.51" width="1.4" height="1.1" fill="#000"/><rect x="1644.8" y="234.04" width="1.4" height="1.1" fill="#000"/><rect x="1644.8" y="262.57" width="1.4" height="1.1" fill="#000"/><rect x="1644.8" y="291.1" width="1.4" height="1.1" fill="#000"/><rect x="1644.8" y="319.63" width="1.4" height="1.1" fill="#000"/><rect x="1644.8" y="348.16" width="1.4" height="1.1" fill="#000"/><rect x="1644.8" y="376.69" width="1.4" height="1.1" fill="#000"/><rect x="1644.8" y="405.22" width="1.4" height="1.1" fill="#000"/><rect x="1644.8" y="433.75" width="1.4" height="1.1" fill="#000"/><rect x="1644.8" y="462.28" width="1.4" height="1.1" fill="#000"/><rect x="1644.8" y="490.81" width="1.4" height="1.1" fill="#000"/><rect x="1644.8" y="519.34" width="1.4" height="1.1" fill="#000"/><rect x="1644.8" y="547.87" width="1.4" height="1.1" fill="#000"/><rect x="1644.8" y="576.4" width="1.4" height="1.1" fill="#000"/><rect x="1644.8" y="604.93" width="1.4" height="1.1" fill="#000"/><rect x="1644.8" y="633.46" width="1.4" height="1.1" fill="#000"/><rect x="116.49" y="937" width="1" height="3.5"/><rect x="230.28" y="937" width="1" height="3.5"/><rect x="344.07" y="937" width="1" height="3.5"/><rect x="457.86" y="937" width="1" height="3.5"/><rect x="571.65" y="937" width="1" height="3.5"/><rect x="685.44" y="937" width="1" height="3.5"/><rect x="799.23" y="937" width="1" height="3.5"/><rect x="913.02" y="937" width="1" height="3.5"/><rect x="1026.81" y="937" width="1" height="3.5"/><rect x="1140.6" y="937" width="1" height="3.5"/><rect x="1254.39" y="937" width="1" height="3.5"/></g>
<text class="s" x="7.2" y="12" textLength="45.3" lengthAdjust="spacingAndGlyphs">EURUSD,</text><text class="s" x="54" y="12" textLength="25.4" lengthAdjust="spacingAndGlyphs">Daily:</text><text class="s" x="86" y="12" textLength="22.6" lengthAdjust="spacingAndGlyphs">Euro</text><text class="s" x="112.3" y="12" textLength="10.6" lengthAdjust="spacingAndGlyphs">vs</text><text class="s" x="124.8" y="12" textLength="15" lengthAdjust="spacingAndGlyphs">US</text><text class="s" x="141.8" y="12" textLength="25.6" lengthAdjust="spacingAndGlyphs">Dollar</text><text class="s" x="175.7" y="12" textLength="40.3" lengthAdjust="spacingAndGlyphs">1.06669</text><text class="s" x="220.2" y="12" textLength="40.3" lengthAdjust="spacingAndGlyphs">1.06848</text><text class="s" x="264.7" y="12" textLength="40.3" lengthAdjust="spacingAndGlyphs">1.06583</text><text class="s" x="309.2" y="12" textLength="40.3" lengthAdjust="spacingAndGlyphs">1.06778</text>
<text class="s" x="5.2" y="676.7" textLength="38.4" lengthAdjust="spacingAndGlyphs">RSI(14)</text><text class="s" x="46.3" y="676.7" textLength="29.3" lengthAdjust="spacingAndGlyphs">57.13</text><text class="s" x="78.2" y="676.7" textLength="36.7" lengthAdjust="spacingAndGlyphs">MA(10)</text><text class="s" x="118.2" y="676.7" textLength="35.4" lengthAdjust="spacingAndGlyphs">48.240</text>
<text class="s" x="3.6" y="951.2">1 Feb 2023</text>
<text class="s" x="116.49" y="951.2">23 Feb 2023</text>
<text class="s" x="230.28" y="951.2">17 Mar 2023</text>
<text class="s" x="344.07" y="951.2">10 Apr 2023</text>
<text class="s" x="457.86" y="951.2">2 May 2023</text>
<text class="s" x="571.65" y="951.2">24 May 2023</text>
<text class="s" x="685.44" y="951.2">15 Jun 2023</text>
<text class="s" x="799.23" y="951.2">7 Jul 2023</text>
<text class="s" x="913.02" y="951.2">31 Jul 2023</text>
<text class="s" x="1026.81" y="951.2">22 Aug 2023</text>
<text class="s" x="1140.6" y="951.2">13 Sep 2023</text>
<text class="s" x="1254.39" y="951.2">5 Oct 2023</text>
</svg>
</body></html>
